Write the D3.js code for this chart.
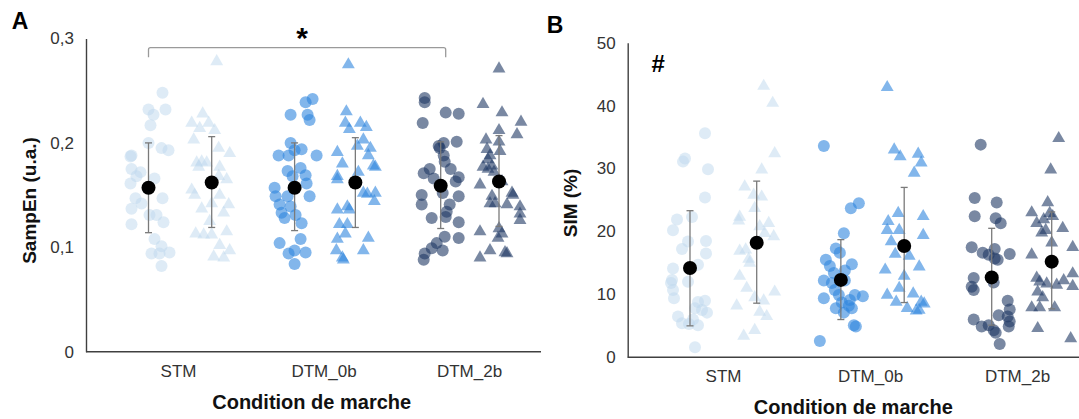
<!DOCTYPE html>
<html><head><meta charset="utf-8">
<script src="https://cdn.jsdelivr.net/npm/d3@7"></script>
<style>
body{margin:0;background:#fff}
svg{display:block}
text{font-family:Arial,"Liberation Sans",sans-serif}
</style>
</head><body>
<svg id="chart" width="1079" height="419"></svg>
<script>
// ---------- categories & ticks ----------
const conditions = ["STM", "DTM_0b", "DTM_2b"];
const ticksA = [0, 0.1, 0.2, 0.3];
const tickLabelsA = ["0", "0,1", "0,2", "0,3"];
const ticksB = [0, 10, 20, 30, 40, 50];
const tickLabelsB = ["0", "10", "20", "30", "40", "50"];
const condColors = ["#bdd7ee", "#2e86de", "#1f3864"];
const condOpacity = [0.5, 0.6, 0.6];

// ---------- Panel A : SampEn (u.a.) — [jitter, value] ----------
const sampEnCircleSTM = [[14,0.248],[0,0.232],[5,0.227],[17,0.232],[2,0.217],[0,0.200],[13,0.195],[20,0.193],[-17,0.188],[-18,0.187],[-17,0.175],[-8,0.172],[-12,0.168],[-18,0.161],[6,0.166],[-13,0.147],[-7,0.142],[-17,0.137],[14,0.147],[1,0.131],[8,0.131],[-17,0.122],[15,0.124],[6,0.108],[3,0.094],[13,0.101],[21,0.095],[11,0.094],[13,0.082]];
const sampEnTriSTM = [[5,0.278],[-9,0.228],[-20,0.219],[-3,0.219],[-12,0.214],[3,0.212],[-18,0.203],[7,0.195],[18,0.190],[-15,0.181],[-10,0.182],[-5,0.181],[-13,0.177],[8,0.177],[7,0.168],[15,0.165],[-20,0.155],[-17,0.150],[8,0.150],[17,0.141],[-10,0.137],[0,0.142],[12,0.133],[-2,0.125],[-8,0.112],[-16,0.113],[0,0.112],[15,0.115],[8,0.102],[18,0.097],[2,0.091],[12,0.090]];
const sampEnCircleDTM0 = [[18,0.242],[11,0.239],[-4,0.227],[13,0.227],[15,0.222],[-4,0.200],[0,0.193],[7,0.194],[-16,0.188],[-6,0.188],[22,0.188],[-7,0.173],[6,0.176],[-2,0.168],[11,0.169],[12,0.161],[-20,0.157],[-19,0.149],[-7,0.149],[15,0.149],[-15,0.141],[-4,0.139],[-13,0.133],[-10,0.128],[1,0.131],[7,0.123],[-15,0.104],[6,0.108],[-6,0.094],[0,0.097],[11,0.095],[0,0.084]];
const sampEnTriDTM0 = [[-7,0.275],[-9,0.230],[-10,0.219],[5,0.219],[-6,0.213],[11,0.215],[8,0.203],[2,0.197],[15,0.195],[-18,0.191],[13,0.188],[-13,0.180],[18,0.178],[20,0.177],[-18,0.168],[3,0.172],[-18,0.165],[8,0.152],[12,0.151],[20,0.152],[19,0.144],[-18,0.136],[-8,0.139],[-6,0.136],[-16,0.122],[-8,0.122],[-10,0.113],[-18,0.108],[13,0.109],[-19,0.097],[8,0.097],[-13,0.090],[-12,0.088]];
const sampEnCircleDTM2 = [[-16,0.243],[-16,0.239],[5,0.229],[18,0.228],[-18,0.219],[-2,0.197],[-1,0.195],[3,0.200],[16,0.201],[3,0.188],[4,0.182],[10,0.175],[-11,0.175],[-17,0.171],[-7,0.166],[18,0.167],[15,0.163],[-19,0.150],[2,0.152],[18,0.149],[-19,0.141],[9,0.141],[6,0.134],[5,0.129],[-9,0.128],[18,0.124],[4,0.110],[18,0.109],[-4,0.104],[-9,0.099],[2,0.097],[-16,0.094],[-17,0.088]];
const sampEnTriDTM2 = [[0,0.271],[-16,0.237],[3,0.229],[22,0.220],[0,0.212],[18,0.208],[-13,0.203],[0,0.201],[-12,0.194],[1,0.192],[-9,0.188],[-11,0.184],[-16,0.177],[-11,0.175],[-7,0.178],[-5,0.172],[-19,0.160],[3,0.163],[13,0.152],[14,0.150],[-7,0.149],[-4,0.142],[-9,0.142],[8,0.141],[21,0.139],[21,0.132],[21,0.126],[0,0.118],[3,0.113],[-1,0.109],[-19,0.115],[-9,0.097],[6,0.095],[8,0.094],[-19,0.090]];
const sampEnMeanCircle = [0.157, 0.157, 0.159];
const sampEnHighCircle = [0.200, 0.200, 0.201];
const sampEnLowCircle  = [0.114, 0.116, 0.118];
const sampEnMeanTri = [0.162, 0.162, 0.163];
const sampEnHighTri = [0.206, 0.205, 0.207];
const sampEnLowTri  = [0.119, 0.119, 0.120];

// ---------- Panel B : SIM (%) — [jitter, value] ----------
const simCircleSTM = [[15,35.6],[-5,31.6],[-7,31.1],[18,29.9],[15,25.4],[-13,21.9],[2,22.3],[-17,20.2],[-2,18.4],[16,18.5],[-8,17.2],[16,16.5],[8,14.7],[-17,14.1],[-2,12.0],[-18,12.3],[-19,11.8],[-17,10.7],[-16,9.4],[8,8.8],[15,9.0],[5,7.8],[17,7.1],[12,7.5],[-12,6.5],[-8,5.4],[-1,5.3],[3,6.0],[8,5.1],[5,1.6]];
const simTriSTM = [[7,43.1],[16,40.4],[18,32.4],[5,29.8],[-12,27.1],[-3,25.8],[5,25.5],[-2,23.7],[-17,22.3],[-18,21.7],[12,21.3],[3,20.8],[8,19.7],[17,19.2],[-17,16.9],[-11,17.1],[-8,15.6],[-7,15.0],[-17,12.9],[-10,11.0],[18,10.4],[-2,9.5],[-20,8.2],[7,9.0],[3,7.2],[10,6.5],[-2,4.3],[-13,3.4]];
const simCircleDTM0 = [[-17,33.6],[10,23.7],[18,24.5],[3,19.7],[-5,17.3],[-1,16.6],[-15,15.5],[-11,14.5],[11,14.8],[-7,13.4],[4,13.8],[-17,12.2],[-9,11.8],[4,12.2],[-6,10.7],[-17,9.4],[-2,9.9],[14,9.9],[22,9.7],[9,9.1],[1,8.7],[-5,7.8],[8,8.2],[11,7.8],[3,7.1],[13,5.1],[15,4.9],[-21,2.6]];
const simTriDTM0 = [[-17,42.9],[-10,33.0],[-4,31.9],[14,32.3],[17,30.9],[10,29.3],[-6,22.9],[19,22.4],[-16,21.6],[-17,20.2],[-5,20.2],[-13,18.4],[19,19.4],[-9,16.4],[5,16.1],[-19,13.9],[15,14.4],[0,12.9],[-5,11.0],[-17,9.9],[9,10.1],[-8,8.8],[17,8.8],[20,8.5],[3,7.8],[12,7.4],[15,7.5]];
const simCircleDTM2 = [[-11,33.8],[-17,25.3],[5,24.6],[-17,22.4],[4,22.1],[9,21.3],[-20,17.5],[-9,16.6],[-3,16.3],[3,17.2],[3,15.7],[18,16.4],[6,15.5],[-18,12.6],[-20,11.2],[-18,10.7],[2,11.9],[16,9.0],[18,7.6],[16,6.5],[18,5.7],[17,4.9],[7,6.7],[-18,6.0],[-10,4.9],[-3,5.1],[4,3.9],[2,4.3],[8,2.1]];
const simTriDTM2 = [[7,34.8],[-1,29.8],[-4,24.6],[-20,23.0],[-2,22.9],[1,22.4],[-15,21.3],[-8,21.9],[11,20.5],[-6,20.2],[-10,19.8],[0,18.2],[-20,16.3],[21,17.5],[-15,12.6],[-12,12.0],[-5,11.7],[5,11.5],[12,12.2],[-14,10.4],[-9,9.5],[-20,7.9],[-12,7.9],[3,7.9],[-14,4.6],[21,13.3],[21,11.3],[19,3.0]];
const simMeanCircle = [14.2, 12.3, 12.7];
const simHighCircle = [23.3, 18.7, 20.5];
const simLowCircle  = [5.0, 6.0, 5.1];
const simMeanTri = [18.2, 17.7, 15.2];
const simHighTri = [28.0, 27.0, 23.1];
const simLowTri  = [8.6, 8.7, 7.7];

// ---------- drawing ----------
const svg = d3.select("#chart");

function drawPanel(cfg) {
  const g = svg.append("g");
  const y = d3.scaleLinear().domain(cfg.yDomain).range([cfg.y0, cfg.y1]);
  const xLab = d3.scalePoint().domain(conditions).range(cfg.labelRange);
  const xCir = d3.scalePoint().domain(conditions).range(cfg.circleRange);
  const xTri = d3.scalePoint().domain(conditions).range(cfg.triRange);

  // y axis
  const yAxis = d3.axisLeft(y).tickValues(cfg.ticks)
    .tickFormat((d, i) => cfg.tickLabels[i]).tickSize(0).tickSizeOuter(0).tickPadding(12);
  const ya = g.append("g").attr("transform", `translate(${cfg.axisX},0)`).call(yAxis);
  ya.select(".domain").attr("stroke", "#404040").attr("stroke-width", 1.4);
  ya.selectAll("text").attr("font-size", 17).attr("fill", "#333");

  // x axis line
  g.append("line").attr("x1", cfg.axisX).attr("x2", cfg.axisEnd)
    .attr("y1", y(0)).attr("y2", y(0)).attr("stroke", "#404040").attr("stroke-width", 1.5);

  // category labels
  const xa = g.append("g").attr("transform", `translate(0,${y(0)})`)
    .call(d3.axisBottom(xLab).tickSize(0).tickPadding(cfg.catPad));
  xa.select(".domain").remove();
  xa.selectAll("text").attr("font-size", 17).attr("fill", "#333");

  // points
  const sym = d3.symbol().type(d3.symbolTriangle).size(72);
  conditions.forEach((c, i) => {
    g.append("g").selectAll("circle").data(cfg.circles[i]).join("circle")
      .attr("cx", d => xCir(c) + d[0]).attr("cy", d => y(d[1])).attr("r", 6)
      .attr("fill", condColors[i]).attr("fill-opacity", condOpacity[i]);
    g.append("g").selectAll("path").data(cfg.tris[i]).join("path")
      .attr("d", sym)
      .attr("transform", d => `translate(${xTri(c) + d[0]},${y(d[1])})`)
      .attr("fill", condColors[i]).attr("fill-opacity", condOpacity[i]);
  });

  // error bars + means
  const bars = [];
  conditions.forEach((c, i) => {
    bars.push({x: xCir(c), m: cfg.meanC[i], hi: cfg.hiC[i], lo: cfg.loC[i]});
    bars.push({x: xTri(c), m: cfg.meanT[i], hi: cfg.hiT[i], lo: cfg.loT[i]});
  });
  const eb = g.append("g").attr("stroke", "#7a7a7a").attr("stroke-width", 1.3);
  bars.forEach(b => {
    eb.append("line").attr("x1", b.x).attr("x2", b.x).attr("y1", y(b.hi)).attr("y2", y(b.lo));
    eb.append("line").attr("x1", b.x - 3.5).attr("x2", b.x + 3.5).attr("y1", y(b.hi)).attr("y2", y(b.hi));
    eb.append("line").attr("x1", b.x - 3.5).attr("x2", b.x + 3.5).attr("y1", y(b.lo)).attr("y2", y(b.lo));
  });
  g.append("g").selectAll("circle").data(bars).join("circle")
    .attr("cx", d => d.x).attr("cy", d => y(d.m)).attr("r", 7).attr("fill", "#000");

  // titles
  g.append("text").attr("x", cfg.xTitle[0]).attr("y", cfg.xTitle[1]).attr("text-anchor", "middle")
    .attr("font-size", 20).attr("font-weight", "bold").attr("fill", "#111").text("Condition de marche");
  g.append("text").attr("transform", `translate(${cfg.yTitle[0]},${cfg.yTitle[1]}) rotate(-90)`)
    .attr("text-anchor", "middle").attr("dominant-baseline", "central")
    .attr("font-size", 19).attr("font-weight", "bold").attr("fill", "#111").text(cfg.yLabel);
  g.append("text").attr("x", cfg.letter[0]).attr("y", cfg.letter[1]).attr("text-anchor", "middle")
    .attr("font-size", 23).attr("font-weight", "bold").attr("fill", "#000").text(cfg.letterText);
  return {g, y, xCir, xTri};
}

const A = drawPanel({
  yDomain: [0, 0.3], y0: 351.7, y1: 38.5, ticks: ticksA, tickLabels: tickLabelsA,
  axisX: 86, axisEnd: 541, labelRange: [178, 469], circleRange: [148.5, 440.7], triRange: [211.7, 499],
  catPad: 13,
  circles: [sampEnCircleSTM, sampEnCircleDTM0, sampEnCircleDTM2],
  tris: [sampEnTriSTM, sampEnTriDTM0, sampEnTriDTM2],
  meanC: sampEnMeanCircle, hiC: sampEnHighCircle, loC: sampEnLowCircle,
  meanT: sampEnMeanTri, hiT: sampEnHighTri, loT: sampEnLowTri,
  xTitle: [311.7, 408.5], yTitle: [29, 200.5], yLabel: "SampEn (u.a.)",
  letter: [20, 29], letterText: "A"
});

const B = drawPanel({
  yDomain: [0, 50], y0: 357.3, y1: 42.7, ticks: ticksB, tickLabels: tickLabelsB,
  axisX: 627.7, axisEnd: 1079, labelRange: [723, 1017], circleRange: [690, 991.7], triRange: [756.7, 1051.7],
  catPad: 13,
  circles: [simCircleSTM, simCircleDTM0, simCircleDTM2],
  tris: [simTriSTM, simTriDTM0, simTriDTM2],
  meanC: simMeanCircle, hiC: simHighCircle, loC: simLowCircle,
  meanT: simMeanTri, hiT: simHighTri, loT: simLowTri,
  xTitle: [853.3, 414], yTitle: [570, 203], yLabel: "SIM (%)",
  letter: [555, 33], letterText: "B"
});

// significance bracket (STM vs DTM_2b) in panel A
const bx1 = A.xCir("STM"), bx2 = A.xCir("DTM_2b") + 5;
const byTop = 47.7, byBot = 57.3;
svg.append("path")
  .attr("d", `M${bx1},${byBot}L${bx1},${byTop + 2}Q${bx1},${byTop} ${bx1 + 2},${byTop}L${bx2 - 2},${byTop}Q${bx2},${byTop} ${bx2},${byTop + 2}L${bx2},${byBot}`)
  .attr("fill", "none").attr("stroke", "#9a9a9a").attr("stroke-width", 1.3);
svg.append("text").attr("x", (bx1 + bx2) / 2 + 5).attr("y", 48).attr("text-anchor", "middle")
  .attr("font-size", 30).attr("font-weight", "bold").attr("fill", "#000").text("*");

// "#" marker in panel B
svg.append("text").attr("x", 658.3).attr("y", 72).attr("text-anchor", "middle")
  .attr("font-size", 24).attr("font-weight", "bold").attr("fill", "#000").text("#");
</script>
</body></html>
